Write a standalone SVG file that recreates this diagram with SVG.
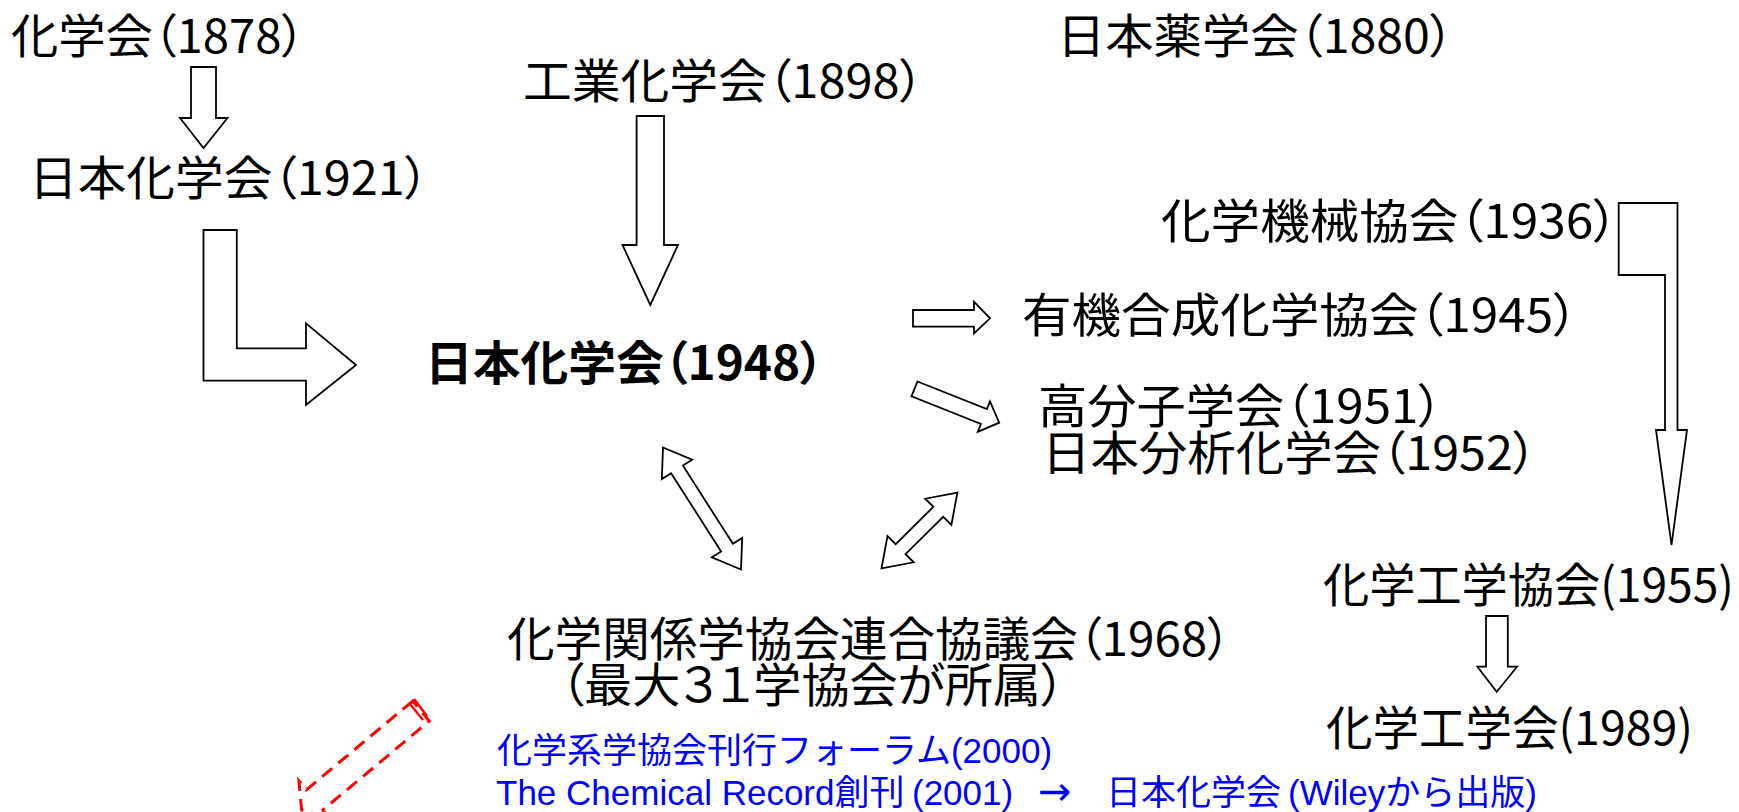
<svg xmlns="http://www.w3.org/2000/svg" width="1739" height="812" viewBox="0 0 1739 812">
<style>
.lbl{font-family:"Noto Sans CJK JP","Noto Sans CJK SC",sans-serif;font-size:47px;fill:#000;font-feature-settings:"palt";}
.b{font-weight:700;}
.blue{font-family:"Liberation Sans","Noto Sans CJK JP",sans-serif;font-size:35px;fill:#0000FF;}
.arw{font-family:"DejaVu Sans",sans-serif;font-size:40px;}
.ar{fill:#fff;stroke:#000;stroke-width:1.8;stroke-linejoin:miter;}
.red{fill:none;stroke:#FF0000;stroke-width:3;stroke-dasharray:13 8;stroke-linejoin:miter;}
.redl{fill:none;stroke:#FF0000;stroke-width:2.5;}
</style>
<rect width="1739" height="812" fill="#fff"/>
<g id="n1878"><text class="lbl" x="11" y="53" textLength="294" lengthAdjust="spacingAndGlyphs">化学会（1878）</text></g>
<g id="n1921"><text class="lbl" x="29" y="195" textLength="400" lengthAdjust="spacingAndGlyphs">日本化学会（1921）</text></g>
<g id="n1898"><text class="lbl" x="523" y="98" textLength="401" lengthAdjust="spacingAndGlyphs">工業化学会（1898）</text></g>
<g id="n1880"><text class="lbl" x="1057" y="53" textLength="397" lengthAdjust="spacingAndGlyphs">日本薬学会（1880）</text></g>
<g id="n1936"><text class="lbl" x="1161" y="238" textLength="457" lengthAdjust="spacingAndGlyphs">化学機械協会（1936）</text></g>
<g id="n1945"><text class="lbl" x="1022" y="332" textLength="556" lengthAdjust="spacingAndGlyphs">有機合成化学協会（1945）</text></g>
<g id="n1948"><text class="lbl b" x="425" y="380" textLength="399" lengthAdjust="spacingAndGlyphs">日本化学会（1948）</text></g>
<g id="n1951"><text class="lbl" x="1038" y="423" textLength="405" lengthAdjust="spacingAndGlyphs">高分子学会（1951）</text></g>
<g id="n1952"><text class="lbl" x="1042" y="470" textLength="495" lengthAdjust="spacingAndGlyphs">日本分析化学会（1952）</text></g>
<g id="n1968">
<text class="lbl" x="507" y="656" textLength="724" lengthAdjust="spacingAndGlyphs">化学関係学協会連合協議会（1968）</text>
<text class="lbl" x="560" y="702" textLength="505" lengthAdjust="spacingAndGlyphs">（最大３１学協会が所属）</text>
</g>
<g id="n1955"><text class="lbl" x="1323" y="602" textLength="411" lengthAdjust="spacingAndGlyphs">化学工学協会(1955)</text></g>
<g id="n1989"><text class="lbl" x="1326" y="745" textLength="367" lengthAdjust="spacingAndGlyphs">化学工学会(1989)</text></g>
<g id="notes">
<text class="blue" x="497" y="763">化学系学協会刊行フォーラム(2000)</text>
<text class="blue" y="805"><tspan x="496">The Chemical Record創刊 </tspan><tspan x="912">(2001) </tspan><tspan class="arw" x="1038">→ </tspan><tspan x="1106">日本化学会</tspan><tspan x="1288">(Wileyから出版)</tspan></text>
</g>
<g id="connectors">
<polygon class="ar" points="191,67 216,67 216,118 227.5,118 203.5,148 180,118 191,118"/>
<polygon class="ar" points="203.5,230 236.8,230 236.8,348.3 306,348.3 306,323.3 356,365 306,405 306,380.7 203.5,380.7"/>
<polygon class="ar" points="636.6,116 664,116 664,245 678,245 650.3,305 622.5,245 636.6,245"/>
<polygon class="ar" points="913,310 974,310 974,301.7 990,318.3 974,333.3 974,326.7 913,326.7"/>
<polygon class="ar" points="917.5,381.5 986.9,409.2 990,401.3 999.2,422.7 977.8,431.9 980.9,424 911.5,396.3"/>
<polygon class="ar" points="663,447.5 692.2,459.7 682.9,465.6 732.9,543.8 742.2,537.9 741,569.5 711.8,557.3 721.1,551.4 671.1,473.2 661.8,479.1"/>
<polygon class="ar" points="881.5,568.3 913.7,562.3 905.5,554.2 943.2,516.8 951.4,524.9 957.4,492.7 925.2,498.7 933.4,506.8 895.7,544.2 887.5,536.1"/>
<polygon class="ar" points="1618.7,203 1677.5,203 1677.5,430 1687,430 1671.5,545 1656,430 1665,430 1665,275 1618.7,275"/>
<polygon class="ar" points="1486,616 1507.8,616 1507.8,666.7 1517,666.7 1496.7,691.7 1477.4,666.7 1486,666.7"/>
<polygon class="red" points="412.7,701 306.3,789.9 299,781 301.6,809.9 330.2,818.8 322.9,809.9 429.3,721"/>
<polyline class="redl" points="410,704 423,720"/>
<polyline class="redl" points="414,699 427,716"/>
</g>
</svg>
